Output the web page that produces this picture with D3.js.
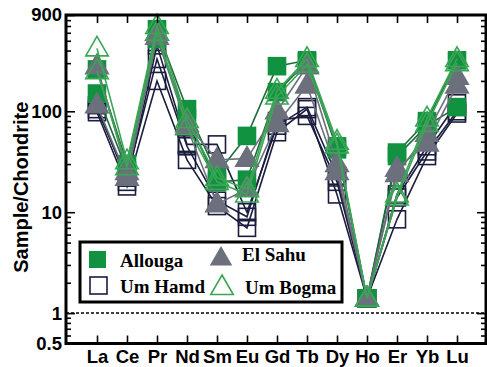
<!DOCTYPE html>
<html><head><meta charset="utf-8">
<script src="https://cdn.jsdelivr.net/npm/d3@7/dist/d3.min.js"></script>
<style>body{margin:0;background:#fff}svg{display:block}</style>
</head><body>
<svg id="c" width="487" height="367"></svg>
<script>
const categories = ["La","Ce","Pr","Nd","Sm","Eu","Gd","Tb","Dy","Ho","Er","Yb","Lu"];
const allouga = [
  [260, 30, 650, 105, 24, 57, 280, 320, 45, 1.4, 39, 80, 320],
  [150, 26, 520, 85, 20, 21, 155, 310, 42, 1.4, 36, 72, 110]
];
const umHamd = [
  [115, 20, 450, 47, 47, 10, 72, 110, 23, 1.4, 8.5, 36, 95],
  [98, 18, 200, 33, 11.5, 7, 62, 105, 15, 1.4, 14, 40, 100],
  [105, 22, 330, 45, 13, 9, 80, 90, 20, 1.4, 15, 45, 120]
];
const elSahu = [
  [280, 25, 600, 75, 33, 34, 100, 280, 30, 1.4, 24, 60, 220],
  [115, 22, 550, 70, 12, 17, 75, 180, 25, 1.4, 27, 48, 180]
];
const umBogma = [
  [420, 32, 700, 82, 22, 17, 160, 330, 50, 1.4, 15, 85, 330],
  [250, 28, 600, 70, 20, 15, 140, 290, 46, 1.4, 14, 75, 300]
];
const yMajor = [0.5, 1, 10, 100, 900];
const yMinor = [0.6,0.7,0.8,0.9,2,3,4,5,6,7,8,9,20,30,40,50,60,70,80,90,200,300,400,500,600,700,800];
const legendNames = ["Allouga","Um Hamd","El Sahu","Um Bogma"];

const svg = d3.select("#c");
const L = 66, R = 486, T = 15, B = 343.5;
const x = d3.scalePoint().domain(categories).range([97, 457]);
const y = d3.scaleLog().domain([0.5, 900]).range([B, T]);

const axisFont = "Liberation Sans, Arial, sans-serif";
const legFont = "Liberation Serif, Times New Roman, serif";

svg.append("line").attr("x1", L).attr("x2", R).attr("y1", y(1)).attr("y2", y(1))
  .attr("stroke", "#000").attr("stroke-width", 1.5).attr("stroke-dasharray", "3,2");

const line = d3.line().x((d,i) => x(categories[i])).y(d => y(d));

const sq = 17, tri = d3.symbol().type(d3.symbolTriangle).size(220);

function group(data, lineColor, kind, fill, stroke) {
  const g = svg.append("g");
  data.forEach(s => {
    g.append("path").attr("d", line(s)).attr("fill", "none")
      .attr("stroke", lineColor).attr("stroke-width", 1.6);
  });
  data.forEach(s => {
    s.forEach((v, i) => {
      const cx = x(categories[i]), cy = y(v);
      if (kind === "sq") {
        g.append("rect").attr("x", cx - sq/2).attr("y", cy - sq/2).attr("width", sq).attr("height", sq)
          .attr("fill", fill).attr("stroke", stroke).attr("stroke-width", 1.6);
      } else {
        g.append("path").attr("d", tri()).attr("transform", `translate(${cx},${cy+1})`)
          .attr("fill", fill).attr("stroke", stroke).attr("stroke-width", 1.6);
      }
    });
  });
}
group(umHamd, "#1b1d3f", "sq", "none", "#1b1d3f");
group(allouga, "#1d6a3a", "sq", "#119240", "#119240");
group(elSahu, "#6c6f7c", "tri", "#6c6f7c", "#6c6f7c");
group(umBogma, "#3aa655", "tri", "none", "#3aa655");

svg.append("g").attr("transform", `translate(${L},0)`)
  .call(d3.axisLeft(y).tickValues(yMajor).tickSize(-9).tickPadding(4).tickFormat(d => String(d)));
svg.append("g").attr("transform", `translate(${L},0)`)
  .call(d3.axisLeft(y).tickValues(yMinor).tickSize(-5).tickFormat(""));
svg.append("g").attr("transform", `translate(${R},0)`)
  .call(d3.axisRight(y).tickValues([1,10,100]).tickSize(-9).tickFormat(""));
svg.append("g").attr("transform", `translate(${R},0)`)
  .call(d3.axisRight(y).tickValues(yMinor).tickSize(-5).tickFormat(""));
svg.append("g").attr("transform", `translate(0,${B})`)
  .call(d3.axisBottom(x).tickSize(-8).tickPadding(6));
svg.append("g").attr("transform", `translate(0,${T})`)
  .call(d3.axisTop(x).tickSize(-8).tickFormat(""));
svg.selectAll(".domain").remove();
svg.selectAll(".tick line").attr("stroke", "#000").attr("stroke-width", 1.6);
svg.selectAll(".tick text").attr("font-family", axisFont).attr("font-weight", "bold")
  .attr("font-size", 18.5).attr("fill", "#000");

svg.append("rect").attr("x", L).attr("y", T).attr("width", R - L).attr("height", B - T)
  .attr("fill", "none").attr("stroke", "#000").attr("stroke-width", 3);

svg.append("text").attr("transform", `translate(28,${(T+B)/2 + 8}) rotate(-90)`)
  .attr("text-anchor", "middle").attr("font-family", axisFont).attr("font-weight", "bold")
  .attr("font-size", 20).text("Sample/Chondrite");

const lg = svg.append("g");
lg.append("rect").attr("x", 80).attr("y", 242).attr("width", 262).attr("height", 60)
  .attr("fill", "#fff").attr("stroke", "#000").attr("stroke-width", 3);
lg.append("rect").attr("x", 89).attr("y", 251).attr("width", 17).attr("height", 17).attr("fill", "#119240");
lg.append("rect").attr("x", 90).attr("y", 277).attr("width", 17).attr("height", 17)
  .attr("fill", "none").attr("stroke", "#1b1d3f").attr("stroke-width", 1.6);
lg.append("path").attr("d", tri()).attr("transform", "translate(221,259)").attr("fill", "#6c6f7c");
lg.append("path").attr("d", tri()).attr("transform", "translate(222,288)").attr("fill", "none")
  .attr("stroke", "#3aa655").attr("stroke-width", 1.6);
const lt = [[120,267,0],[120,293,1],[242,261,2],[245,294,3]];
lt.forEach(([tx,ty,k]) => lg.append("text").attr("x", tx).attr("y", ty)
  .attr("font-family", legFont).attr("font-weight", "bold").attr("font-size", 19).text(legendNames[k]));
</script>
</body></html>
